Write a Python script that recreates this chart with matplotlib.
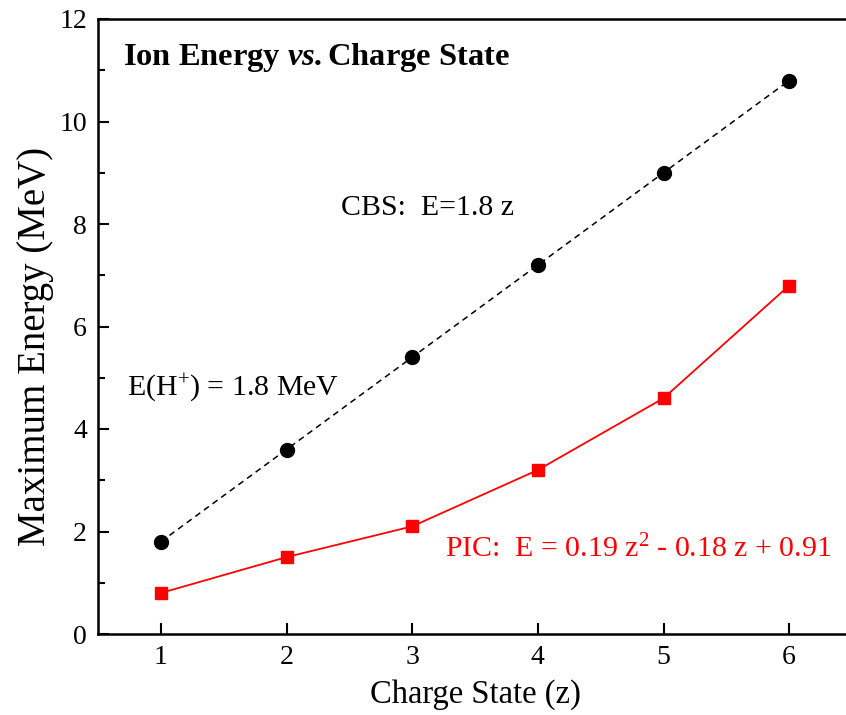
import matplotlib
matplotlib.use("Agg")
import matplotlib.pyplot as plt

# data
charge_state = [1, 2, 3, 4, 5, 6]
cbs_energy = [1.8, 3.6, 5.4, 7.2, 9.0, 10.8]
pic_energy = [0.8, 1.5, 2.1, 3.2, 4.6, 6.8]

plt.rcParams['font.family'] = ['Liberation Serif', 'DejaVu Serif']
plt.rcParams['mathtext.fontset'] = 'custom'
plt.rcParams['mathtext.rm'] = 'Liberation Serif'
plt.rcParams['mathtext.it'] = 'Liberation Serif:italic'
plt.rcParams['mathtext.bf'] = 'Liberation Serif:bold'
plt.rcParams['mathtext.bfit'] = 'Liberation Serif:italic:bold'

fig = plt.figure(figsize=(8.46, 7.15), dpi=100)
ax = fig.add_axes([98 / 846, 81 / 715, 754 / 846, 615 / 715])

ax.plot(charge_state, cbs_energy, 'k--', lw=1.1, dashes=(4, 3),
        marker='o', ms=10, zorder=3)
ax.plot(charge_state, pic_energy, color='red', lw=1.3,
        marker='s', ms=8.5, zorder=3)

ax.set_xlim(0.5, 6.5)
ax.set_ylim(0, 12)
ax.set_xticks(charge_state)
ax.set_yticks(range(0, 13, 2))
ax.set_yticks(range(1, 12, 2), minor=True)
ax.tick_params(which='both', direction='in', labelsize=20, width=1.5)
ax.tick_params(which='major', length=8, pad=8)
ax.tick_params(which='minor', length=5)
for s in ax.spines.values():
    s.set_linewidth(1.8)

ax.set_xlabel("Charge State (z)", fontsize=23.5)
ax.xaxis.set_label_coords(0.5, -0.074)
ax.set_ylabel("Maximum Energy (MeV)", fontsize=28)
ax.yaxis.set_label_coords(-0.059, 0.468)

ax.text(0.70, 11.1, r"Ion Energy $\mathbfit{vs.}$Charge State",
        fontsize=23.4, fontweight='bold')
ax.text(2.43, 8.17, "CBS:  E=1.8 z", fontsize=21.5)
ax.text(0.73, 4.66, r"E(H$^{+}$) = 1.8 MeV", fontsize=21.5)
ax.text(3.26, 1.5, r"PIC:  E = 0.19 z$^{2}$ - 0.18 z + 0.91",
        fontsize=21.5, color='red')

fig.savefig("out.png", dpi=100)
